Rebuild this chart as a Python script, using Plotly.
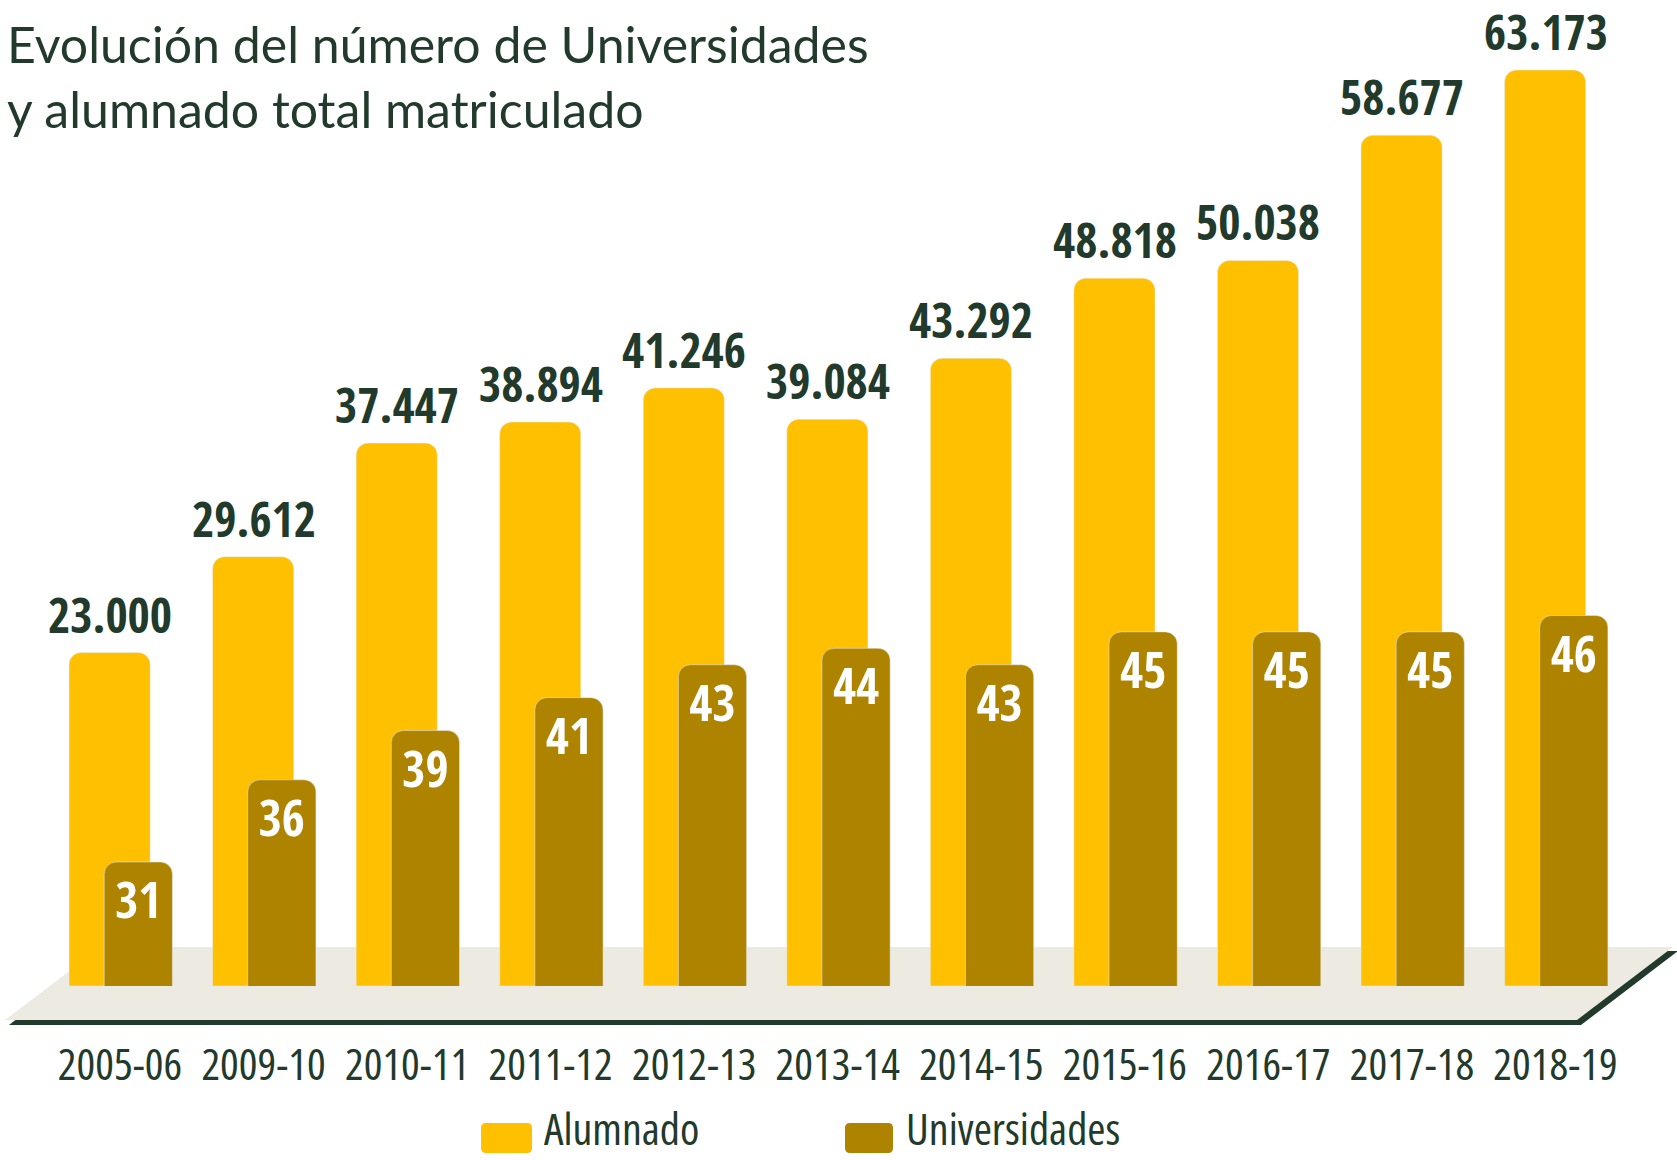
import plotly.graph_objects as go

# ---- data ----
cursos = ["2005-06", "2009-10", "2010-11", "2011-12", "2012-13", "2013-14",
          "2014-15", "2015-16", "2016-17", "2017-18", "2018-19"]
alumnado = [23000, 29612, 37447, 38894, 41246, 39084, 43292, 48818, 50038, 58677, 63173]
universidades = [31, 36, 39, 41, 43, 44, 43, 45, 45, 45, 46]
titulo = "Evolución del número de Universidades<br>y alumnado total matriculado"
serie_names = ["Alumnado", "Universidades"]

# ---- style ----
W, H = 1677, 1160
YELLOW = "#FEC000"
GOLD = "#AE8300"
FLOOR = "#EDEBE1"
DARK = "#213A2B"
BOLD_NARROW = "Open Sans Condensed, Roboto Condensed, sans-serif"
NARROW = "Open Sans, Roboto Condensed, sans-serif"
BASE_PX = 986          # pixel row of the bars' base
PX_PER_CAT = 143.55
X0_PX = 120            # pixel of first category centre


def px(x):
    return x / W


def py(y):
    return 1 - y / H


def fmt(v):
    return f"{v:,}".replace(",", ".")


def cond(s):
    return f"<span style='font-stretch:condensed'>{s}</span>"


fig = go.Figure()
fig.add_trace(go.Bar(
    x=cursos, y=alumnado, name=serie_names[0], marker_color=YELLOW,
    width=0.565, offset=-0.355, yaxis="y", showlegend=False,
    hovertemplate="%{x}: %{y:,}<extra>Alumnado</extra>",
))
fig.add_trace(go.Bar(
    x=cursos, y=universidades, name=serie_names[1], marker_color=GOLD,
    width=0.475, offset=-0.11, yaxis="y2", showlegend=False,
    text=universidades, textposition="inside", insidetextanchor="end",
    textangle=0, constraintext="none",
    insidetextfont=dict(family=BOLD_NARROW, size=50, color="white", weight="bold"),
    hovertemplate="%{x}: %{y}<extra>Universidades</extra>",
))

annotations = []
for c, v in zip(cursos, alumnado):
    annotations.append(dict(
        x=c, y=v, xref="x", yref="y", text=fmt(v), showarrow=False,
        xanchor="center", yanchor="bottom", xshift=-10, yshift=4,
        font=dict(family=BOLD_NARROW, size=48, color=DARK, weight="bold"),
    ))

annotations.append(dict(
    x=px(5), y=py(12), xref="paper", yref="paper", text=titulo,
    showarrow=False, xanchor="left", yanchor="top", align="left",
    font=dict(family="Lato, Open Sans, sans-serif", size=50, color=DARK),
))

# legend (custom, large swatches)
legend_items = [(serie_names[0], YELLOW, 481, 532, 543),
                (serie_names[1], GOLD, 845, 893, 905)]


def rrect(x0, y0, x1, y1, r):
    return (f"M {px(x0 + r)},{py(y0)} L {px(x1 - r)},{py(y0)} "
            f"Q {px(x1)},{py(y0)} {px(x1)},{py(y0 + r)} L {px(x1)},{py(y1 - r)} "
            f"Q {px(x1)},{py(y1)} {px(x1 - r)},{py(y1)} L {px(x0 + r)},{py(y1)} "
            f"Q {px(x0)},{py(y1)} {px(x0)},{py(y1 - r)} L {px(x0)},{py(y0 + r)} "
            f"Q {px(x0)},{py(y0)} {px(x0 + r)},{py(y0)} Z")


shapes = []
# floor shadow edge and floor
shapes.append(dict(type="path", xref="paper", yref="paper", layer="below",
                   path=f"M {px(9)},{py(1025)} L {px(1581)},{py(1025)} L {px(1678)},{py(951)} L {px(105)},{py(951)} Z",
                   fillcolor=DARK, line=dict(width=0)))
shapes.append(dict(type="path", xref="paper", yref="paper", layer="below",
                   path=f"M {px(5)},{py(1020)} L {px(1577)},{py(1020)} L {px(1673)},{py(947)} L {px(101)},{py(947)} Z",
                   fillcolor=FLOOR, line=dict(width=0)))
for name, col, sx0, sx1, tx in legend_items:
    shapes.append(dict(type="path", xref="paper", yref="paper",
                       path=rrect(sx0, 1123, sx1, 1153, 5),
                       fillcolor=col, line=dict(width=0)))
    annotations.append(dict(
        x=px(tx), y=py(1159), xref="paper", yref="paper", text=cond(name),
        showarrow=False, xanchor="left", yanchor="bottom", borderpad=0,
        font=dict(family=NARROW, size=44, color=DARK),
    ))

plot_h = BASE_PX
alum_scale = 0.0145      # px per student
uni_scale = 16.44        # px per university
uni_zero = 23.46

fig.update_layout(
    width=W, height=H,
    margin=dict(l=0, r=0, t=0, b=0),
    paper_bgcolor="white", plot_bgcolor="rgba(0,0,0,0)",
    barmode="overlay", barcornerradius=12,
    xaxis=dict(
        type="category",
        range=[-X0_PX / PX_PER_CAT, (W - X0_PX) / PX_PER_CAT],
        tickmode="array", tickvals=cursos, ticktext=[cond(c) for c in cursos],
        showgrid=False, zeroline=False, showline=False,
        ticks="outside", ticklen=40, tickcolor="rgba(0,0,0,0)",
        tickangle=0,
        tickfont=dict(family=NARROW, size=44, color=DARK),
        anchor="y",
    ),
    yaxis=dict(
        domain=[1 - BASE_PX / H, 1],
        range=[0, plot_h / alum_scale],
        visible=False, showgrid=False, zeroline=False,
    ),
    yaxis2=dict(
        overlaying="y", side="right",
        range=[uni_zero, uni_zero + plot_h / uni_scale],
        visible=False, showgrid=False, zeroline=False,
    ),
    annotations=annotations,
    shapes=shapes,
)

fig.write_html(
    "out.html",
    config={"displayModeBar": False},
    post_script="document.body.style.margin='0';document.body.style.overflow='hidden';"
                "document.documentElement.style.overflow='hidden';",
)
